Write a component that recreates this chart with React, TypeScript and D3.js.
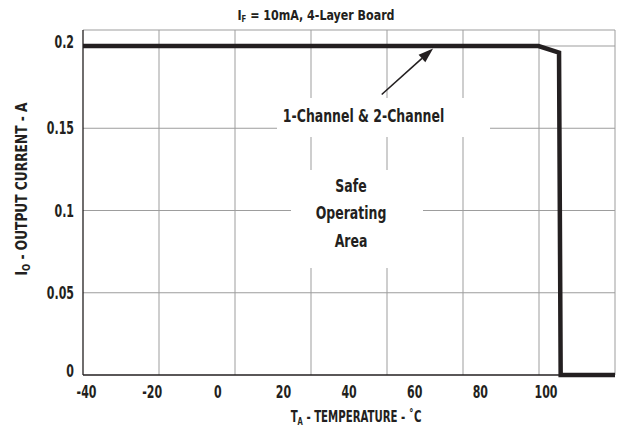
import React from "react";
import * as d3 from "d3";

// Safe operating area curve: output current vs ambient temperature
const tempC = [-40, 100, 106.3, 106.8, 123.5];
const currentA = [0.2, 0.2, 0.196, 0, 0];

const xTickLabels = [-40, -20, 0, 20, 40, 60, 80, 100];
const yTicks = [0, 0.05, 0.1, 0.15, 0.2];
const yTickLabels = ["0", "0.05", "0.1", "0.15", "0.2"];

const W = 618;
const H = 429;
const FONT = "'DejaVu Sans Condensed', 'DejaVu Sans', sans-serif";
const INK = "#231f20";
const GRID = "#9d9d9d";

type CTextProps = {
  x: number;
  y: number;
  size: number;
  sx: number;
  anchor?: "start" | "middle" | "end";
  rotate?: number;
  children: React.ReactNode;
};

// Bold text squeezed horizontally to a condensed face
function CText({ x, y, size, sx, anchor = "middle", rotate = 0, children }: CTextProps) {
  return (
    <g transform={`translate(${x},${y}) rotate(${rotate}) scale(${sx},1)`}>
      <text x={0} y={0} fontSize={size} textAnchor={anchor} fill={INK}>
        {children}
      </text>
    </g>
  );
}

export default function App() {
  const left = 83;
  const right = 615;
  const top = 30;
  const bottom = 375;

  const xMin = -40;
  const xMax = 123.5;
  const x = d3.scaleLinear().domain([xMin, xMax]).range([left, right]);
  const y = d3.scaleLinear().domain([0, 0.2]).range([bottom, 46]);
  // tick labels are spaced on their own evenly stepped scale
  const xLab = d3.scaleLinear().domain([-40, 100]).range([86.5, 546]);

  const nCols = 7;
  const colGrid = d3.range(1, nCols).map((i) => xMin + (i * (xMax - xMin)) / nCols);

  const pts: [number, number][] = tempC.map((t, i) => [t, currentA[i]]);
  const line = d3
    .line<[number, number]>()
    .x((d) => x(d[0]))
    .y((d) => y(d[1]));

  // annotation arrow (data coordinates)
  const tail: [number, number] = [51.8, 0.1705];
  const tip: [number, number] = [67.6, 0.2];
  const tx = x(tail[0]);
  const ty = y(tail[1]);
  const hx = x(tip[0]);
  const hy = y(tip[1]) + 2.4;
  const ang = Math.atan2(hy - ty, hx - tx);
  const headLen = 15;
  const headHalf = 5;
  const bx = hx - headLen * Math.cos(ang);
  const by = hy - headLen * Math.sin(ang);
  const px = -Math.sin(ang) * headHalf;
  const py = Math.cos(ang) * headHalf;

  const yLabelShift = (v: number) => (v === 0.2 ? 2 : v === 0 ? 1.5 : 6);

  return (
    <svg
      width={W}
      height={H}
      style={{ position: "absolute", left: 0, top: 0, background: "#fff" }}
      fontFamily={FONT}
      fontWeight="bold"
    >
      <rect x={0} y={0} width={W} height={H} fill="#fff" />

      {/* grid */}
      <g stroke={GRID} strokeWidth={1}>
        {colGrid.map((g, i) => (
          <line key={"v" + i} x1={x(g)} x2={x(g)} y1={top} y2={bottom} />
        ))}
        {yTicks.slice(1).map((v, i) => (
          <line key={"h" + i} x1={left} x2={right} y1={y(v)} y2={y(v)} />
        ))}
        <line x1={left} x2={right} y1={top} y2={top} />
        <line x1={right} x2={right} y1={top} y2={bottom} />
      </g>

      {/* axes */}
      <g stroke={INK} strokeWidth={1.3}>
        <line x1={left} x2={left} y1={top} y2={bottom} />
        <line x1={left} x2={right} y1={bottom} y2={bottom} />
      </g>

      {/* label knock-out boxes */}
      <rect x={277} y={98} width={213} height={39} fill="#fff" />
      <rect x={291} y={170} width={132} height={98} fill="#fff" />

      {/* curve */}
      <path
        d={line(pts) || ""}
        fill="none"
        stroke={INK}
        strokeWidth={4.5}
        strokeLinejoin="miter"
      />

      {/* arrow */}
      <line x1={tx} y1={ty} x2={bx} y2={by} stroke={INK} strokeWidth={1.6} />
      <polygon
        points={`${hx},${hy} ${bx + px},${by + py} ${bx - px},${by - py}`}
        fill={INK}
      />

      <CText x={363.5} y={122} size={17.8} sx={0.78}>
        1-Channel &amp; 2-Channel
      </CText>
      <CText x={351} y={192} size={17.8} sx={0.78}>
        Safe
      </CText>
      <CText x={351} y={219} size={17.8} sx={0.78}>
        Operating
      </CText>
      <CText x={351} y={246.5} size={17.8} sx={0.78}>
        Area
      </CText>

      {/* title */}
      <CText x={316} y={20} size={13.7} sx={0.9}>
        I<tspan fontSize={8.5} dy={2}>F</tspan>
        <tspan dy={-2}> = 10mA, 4-Layer Board</tspan>
      </CText>

      {/* x tick labels */}
      {xTickLabels.map((v) => (
        <CText key={v} x={xLab(v)} y={397.5} size={17.5} sx={0.7}>
          {v}
        </CText>
      ))}

      {/* y tick labels */}
      {yTicks.map((v, i) => (
        <CText key={v} x={74} y={y(v) + yLabelShift(v)} size={17.5} sx={0.7} anchor="end">
          {yTickLabels[i]}
        </CText>
      ))}

      {/* axis titles */}
      <CText x={356} y={421.5} size={15} sx={0.755}>
        T<tspan fontSize={10} dy={3}>A</tspan>
        <tspan dy={-3}> - TEMPERATURE - ˚C</tspan>
      </CText>
      <CText x={27} y={189} size={16} sx={0.85} rotate={-90}>
        I<tspan fontSize={11} dy={3}>O</tspan>
        <tspan dy={-3}> - OUTPUT CURRENT - A</tspan>
      </CText>
    </svg>
  );
}
